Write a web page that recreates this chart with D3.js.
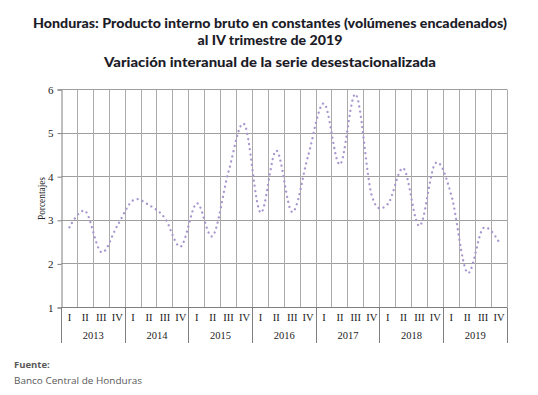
<!DOCTYPE html>
<html>
<head>
<meta charset="utf-8">
<script src="https://cdn.jsdelivr.net/npm/d3@7"></script>
<style>
  body { margin: 0; background: #fff; }
  svg { display: block; }
</style>
</head>
<body>
<svg id="chart"></svg>
<script>
// Quarterly year-on-year change of seasonally adjusted GDP (percent)
const years = ["2013", "2014", "2015", "2016", "2017", "2018", "2019"];
const quarters = ["I", "II", "III", "IV"];
const growth = [
  2.84, 3.21, 2.27, 2.87,
  3.46, 3.35, 3.05, 2.40,
  3.39, 2.64, 4.12, 5.20,
  3.18, 4.60, 3.19, 4.48,
  5.68, 4.28, 5.89, 3.57,
  3.37, 4.19, 2.87, 4.31,
  3.58, 1.80, 2.82, 2.50
];
const yTicks = [1, 2, 3, 4, 5, 6];

const width = 538, height = 395;
const plot = {left: 61.5, right: 507, top: 89.5, bottom: 307.5};

const svg = d3.select("#chart")
  .attr("width", width)
  .attr("height", height);

// one category per quarter, e.g. "2015-III"
const cats = years.flatMap(y => quarters.map(q => y + "-" + q));
const points = cats.map((c, i) => ({cat: c, value: growth[i]}));

const x = d3.scaleBand()
  .domain(cats)
  .range([plot.left, plot.right])
  .paddingInner(0)
  .paddingOuter(0);

const y = d3.scaleLinear()
  .domain([1, 6])
  .range([plot.bottom, plot.top]);

const crisp = v => Math.round(v - 0.5) + 0.5;
const serif = "'Liberation Serif', 'Times New Roman', serif";

// Gridlines
const grid = svg.append("g");
grid.selectAll("line.h")
  .data(yTicks.slice(1))
  .enter().append("line")
  .attr("class", "h")
  .attr("x1", plot.left).attr("x2", plot.right)
  .attr("y1", d => crisp(y(d))).attr("y2", d => crisp(y(d)))
  .attr("stroke", "#9e9e9e");

grid.selectAll("line.v")
  .data(cats.slice(1).concat(["end"]))
  .enter().append("line")
  .attr("class", "v")
  .attr("x1", d => crisp(d === "end" ? plot.right : x(d)))
  .attr("x2", d => crisp(d === "end" ? plot.right : x(d)))
  .attr("y1", plot.top).attr("y2", plot.bottom)
  .attr("stroke", "#ababab");

// Y axis
const yAxis = svg.append("g")
  .attr("transform", `translate(${plot.left},0)`)
  .call(d3.axisLeft(y).tickValues(yTicks).tickFormat(d3.format("d")).tickSize(4).tickPadding(4));
yAxis.select(".domain").attr("stroke", "#7f7f7f");
yAxis.selectAll(".tick line").attr("stroke", "#7f7f7f");
yAxis.selectAll(".tick text")
  .style("font-family", serif)
  .style("font-size", "11px")
  .attr("fill", "#222");

svg.append("text")
  .attr("transform", `translate(45,${(plot.top + plot.bottom) / 2}) rotate(-90)`)
  .attr("text-anchor", "middle")
  .attr("textLength", 43)
  .attr("lengthAdjust", "spacingAndGlyphs")
  .style("font-family", serif)
  .style("font-size", "11px")
  .attr("fill", "#222")
  .text("Porcentajes");

// X axis: quarter labels plus year groups
const xAxis = svg.append("g");
xAxis.append("line")
  .attr("x1", plot.left).attr("x2", plot.right)
  .attr("y1", plot.bottom).attr("y2", plot.bottom)
  .attr("stroke", "#7f7f7f");

xAxis.selectAll("text.q")
  .data(cats)
  .enter().append("text")
  .attr("class", "q")
  .attr("x", d => x(d) + x.bandwidth() / 2)
  .attr("y", 321)
  .attr("text-anchor", "middle")
  .style("font-family", serif)
  .style("font-size", "10.5px")
  .attr("fill", "#222")
  .text(d => d.split("-")[1]);

const yearEdge = yr => x(yr + "-I");
xAxis.selectAll("line.yr")
  .data(years.concat(["end"]))
  .enter().append("line")
  .attr("class", "yr")
  .attr("x1", d => crisp(d === "end" ? plot.right : yearEdge(d)))
  .attr("x2", d => crisp(d === "end" ? plot.right : yearEdge(d)))
  .attr("y1", plot.bottom).attr("y2", 343)
  .attr("stroke", "#7f7f7f");

xAxis.selectAll("text.yr")
  .data(years)
  .enter().append("text")
  .attr("class", "yr")
  .attr("x", d => yearEdge(d) + 2 * x.bandwidth())
  .attr("y", 339)
  .attr("text-anchor", "middle")
  .style("font-family", serif)
  .style("font-size", "10.5px")
  .attr("fill", "#222")
  .text(d => d);

// Smoothed dotted series
const line = d3.line()
  .x(d => x(d.cat) + x.bandwidth() / 2)
  .y(d => y(d.value))
  .curve(d3.curveCardinal.tension(0));

svg.append("path")
  .datum(points)
  .attr("d", line)
  .attr("fill", "none")
  .attr("stroke", "#a896cf")
  .attr("stroke-width", 2.3)
  .attr("stroke-linecap", "round")
  .attr("stroke-dasharray", "0.01 5.2");

// Titles
const titleFont = "Lato, 'DejaVu Sans', sans-serif";
const titles = [
  {text: "Honduras: Producto interno bruto en constantes (volúmenes encadenados)", y: 28, len: 474},
  {text: "al IV trimestre de 2019", y: 45, len: 145},
  {text: "Variación interanual de la serie desestacionalizada", y: 67, len: 332}
];
svg.selectAll("text.title")
  .data(titles)
  .enter().append("text")
  .attr("class", "title")
  .attr("x", 270)
  .attr("y", d => d.y)
  .attr("text-anchor", "middle")
  .attr("textLength", d => d.len)
  .attr("lengthAdjust", "spacingAndGlyphs")
  .style("font-family", titleFont)
  .style("font-weight", "900")
  .style("font-size", "14px")
  .attr("fill", "#1c1c28")
  .text(d => d.text);

// Source note
svg.append("text")
  .attr("x", 14).attr("y", 368)
  .style("font-family", "'Open Sans', 'Noto Sans', sans-serif")
  .style("font-size", "9.5px")
  .style("font-weight", "bold")
  .attr("fill", "#595959")
  .text("Fuente:");

svg.append("text")
  .attr("x", 14).attr("y", 384)
  .attr("textLength", 128)
  .attr("lengthAdjust", "spacingAndGlyphs")
  .style("font-family", "'Open Sans', 'Noto Sans', sans-serif")
  .style("font-size", "9.5px")
  .attr("fill", "#595959")
  .text("Banco Central de Honduras");
</script>
</body>
</html>
